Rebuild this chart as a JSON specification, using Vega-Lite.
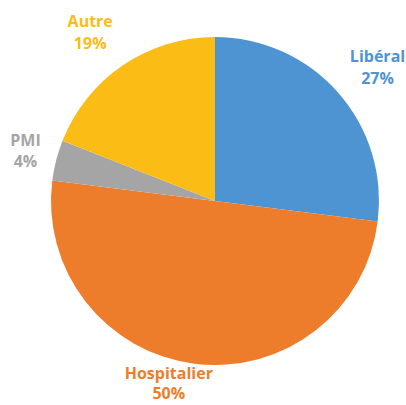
{
  "$schema": "https://vega.github.io/schema/vega-lite/v6.json",
  "autosize": {"type": "none"},
  "width": 382,
  "height": 402,
  "padding": {"left": 24, "right": 0, "top": 0, "bottom": 3},
  "background": "white",
  "data": {
    "values": [
      {"cat": "Libéral", "value": 0.27, "ord": 1},
      {"cat": "Hospitalier", "value": 0.50, "ord": 2},
      {"cat": "PMI", "value": 0.04, "ord": 3},
      {"cat": "Autre", "value": 0.19, "ord": 4}
    ]
  },
  "encoding": {
    "theta": {"field": "value", "type": "quantitative", "stack": true},
    "order": {"field": "ord", "type": "quantitative"},
    "color": {
      "field": "cat",
      "type": "nominal",
      "scale": {
        "domain": ["Libéral", "Hospitalier", "PMI", "Autre"],
        "range": ["#4F94D2", "#EE7D2B", "#A5A5A5", "#FBBC15"]
      },
      "legend": null
    }
  },
  "layer": [
    {"mark": {"type": "arc", "outerRadius": 164}},
    {
      "mark": {"type": "text", "radius": 206, "dx": 8, "dy": -8, "font": "Open Sans", "fontWeight": "bold", "fontSize": 16},
      "encoding": {"text": {"condition": {"test": "datum.cat === 'Libéral'", "field": "cat"}, "value": ""}}
    },
    {
      "mark": {"type": "text", "radius": 206, "dx": 8, "dy": 14, "font": "Open Sans", "fontWeight": "bold", "fontSize": 16},
      "encoding": {"text": {"condition": {"test": "datum.cat === 'Libéral'", "field": "value", "type": "quantitative", "format": ".0%"}, "value": ""}}
    },
    {
      "mark": {"type": "text", "radius": 185, "dx": -23, "dy": -11, "font": "Open Sans", "fontWeight": "bold", "fontSize": 16},
      "encoding": {"text": {"condition": {"test": "datum.cat === 'Hospitalier'", "field": "cat"}, "value": ""}}
    },
    {
      "mark": {"type": "text", "radius": 185, "dx": -23, "dy": 9, "font": "Open Sans", "fontWeight": "bold", "fontSize": 16},
      "encoding": {"text": {"condition": {"test": "datum.cat === 'Hospitalier'", "field": "value", "type": "quantitative", "format": ".0%"}, "value": ""}}
    },
    {
      "mark": {"type": "text", "radius": 206, "dx": 10, "dy": -9, "font": "Open Sans", "fontWeight": "bold", "fontSize": 16},
      "encoding": {"text": {"condition": {"test": "datum.cat === 'PMI'", "field": "cat"}, "value": ""}}
    },
    {
      "mark": {"type": "text", "radius": 206, "dx": 10, "dy": 12, "font": "Open Sans", "fontWeight": "bold", "fontSize": 16},
      "encoding": {"text": {"condition": {"test": "datum.cat === 'PMI'", "field": "value", "type": "quantitative", "format": ".0%"}, "value": ""}}
    },
    {
      "mark": {"type": "text", "radius": 206, "dx": -9, "dy": -9, "font": "Open Sans", "fontWeight": "bold", "fontSize": 16},
      "encoding": {"text": {"condition": {"test": "datum.cat === 'Autre'", "field": "cat"}, "value": ""}}
    },
    {
      "mark": {"type": "text", "radius": 206, "dx": -9, "dy": 13, "font": "Open Sans", "fontWeight": "bold", "fontSize": 16},
      "encoding": {"text": {"condition": {"test": "datum.cat === 'Autre'", "field": "value", "type": "quantitative", "format": ".0%"}, "value": ""}}
    }
  ],
  "config": {"view": {"stroke": null}}
}
